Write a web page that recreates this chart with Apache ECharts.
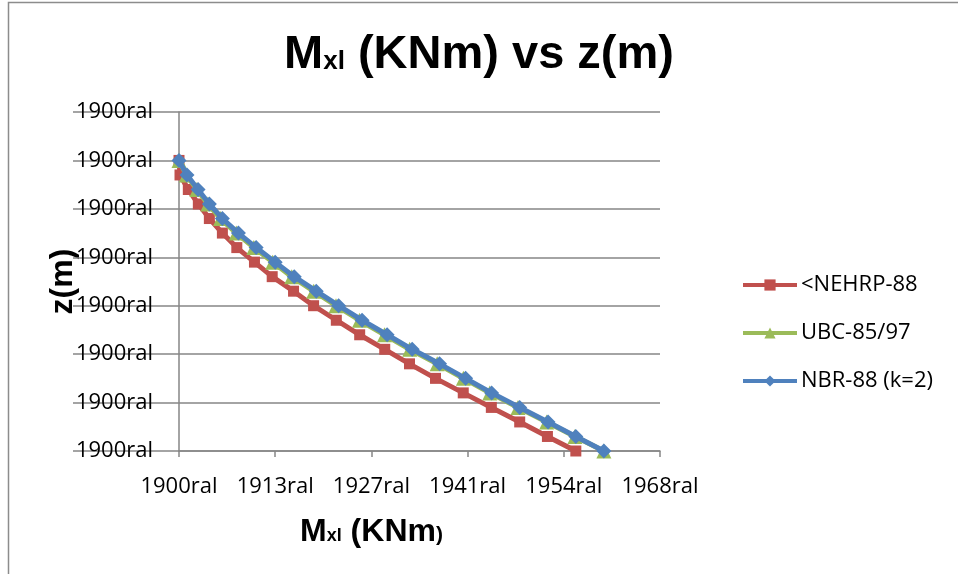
<!DOCTYPE html>
<html>
<head>
<meta charset="utf-8">
<script src="https://cdn.jsdelivr.net/npm/echarts@6/dist/echarts.min.js"></script>
<style>
  html, body { margin: 0; padding: 0; background: #ffffff; }
  #chart { width: 958px; height: 574px; }
</style>
</head>
<body>
<div id="chart"></div>
<script>
// Height above base, z (m)
const zValues = [60, 57, 54, 51, 48, 45, 42, 39, 36, 33, 30, 27, 24, 21, 18, 15, 12, 9, 6, 3, 0];

// Bending moment Mxl (KNm) per code, one value per z level
const nehrp88 = [0, 52, 484, 1005, 1578, 2255, 3005, 3922, 4844, 5953, 6995, 8177, 9391, 10693, 11979, 13333, 14774, 16234, 17708, 19149, 20625];
const ubc8597 = [0, 380, 930, 1500, 2160, 2980, 3890, 4870, 5860, 7000, 8160, 9380, 10680, 11990, 13420, 14780, 16150, 17620, 19110, 20580, 22083];
const nbr88k2 = [0, 417, 990, 1578, 2255, 3088, 4010, 5000, 5990, 7135, 8297, 9516, 10818, 12120, 13542, 14896, 16250, 17708, 19182, 20625, 22083];

const seriesNames = ['<NEHRP-88', 'UBC-85/97', 'NBR-88 (k=2)'];

// Axis tick labels (date-formatted cells)
const xTickLabels = ['1900ral', '1913ral', '1927ral', '1941ral', '1954ral', '1968ral'];
const yTickLabels = ['1900ral', '1900ral', '1900ral', '1900ral', '1900ral', '1900ral', '1900ral', '1900ral'];

const X_STEP = 5000, Y_STEP = 10;

const pairs = (xs) => xs.map((x, i) => [x, zValues[i]]);

const labelFont = 'Open Sans';
const boldFont = 'Liberation Sans';

const chart = echarts.init(document.getElementById('chart'), null, { renderer: 'canvas' });

const lineStyleFor = (color) => ({ color: color, width: 5 });

chart.setOption({
  animation: false,
  backgroundColor: '#ffffff',
  color: ['#C0504D', '#9BBB59', '#4F81BD'],
  title: {
    text: '{a|M}{b|xl}{a| (KNm) vs z(m)}',
    left: 'center',
    top: 22,
    textStyle: {
      rich: {
        a: { fontFamily: boldFont, fontWeight: 'bold', fontSize: 47, color: '#000000', verticalAlign: 'bottom', lineHeight: 52 },
        b: { fontFamily: boldFont, fontWeight: 'bold', fontSize: 26, color: '#000000', verticalAlign: 'bottom', lineHeight: 52, padding: [0, 0, 4, 0] }
      }
    }
  },
  graphic: [{
    type: 'rect',
    shape: { x: 8.5, y: 2.5, width: 1000, height: 1000 },
    style: { fill: 'none', stroke: '#8c8c8c', lineWidth: 1.5 },
    silent: true
  }],
  legend: {
    orient: 'vertical',
    left: 741,
    top: 274,
    padding: 0,
    itemWidth: 54,
    itemHeight: 14,
    itemGap: 26,
    lineStyle: { width: 4 },
    textStyle: { fontFamily: labelFont, fontSize: 22, color: '#000000', padding: [0, 0, 0, -1] },
    data: seriesNames
  },
  grid: { left: 179, right: 298, top: 112, bottom: 123, containLabel: false },
  xAxis: {
    type: 'value',
    min: 0,
    max: 25000,
    interval: X_STEP,
    name: '{a|M}{b|xl}{a| (KNm}{c|)}',
    nameLocation: 'middle',
    nameGap: 61,
    nameMoveOverlap: false,
    nameTextStyle: {
      padding: [0, 96, 0, 0],
      rich: {
        a: { fontFamily: boldFont, fontWeight: 'bold', fontSize: 32, color: '#000000', verticalAlign: 'bottom', lineHeight: 36 },
        b: { fontFamily: boldFont, fontWeight: 'bold', fontSize: 18, color: '#000000', verticalAlign: 'bottom', lineHeight: 36, padding: [0, 0, 3, 0] },
        c: { fontFamily: boldFont, fontWeight: 'bold', fontSize: 21, color: '#000000', verticalAlign: 'bottom', lineHeight: 36, padding: [0, 0, 2, 0] }
      }
    },
    axisLine: { show: true, onZero: false, lineStyle: { color: '#868686', width: 1.5 } },
    axisTick: { show: true, length: 6, lineStyle: { color: '#868686', width: 1.5 } },
    axisLabel: {
      margin: 25,
      fontFamily: labelFont,
      fontSize: 22,
      color: '#000000',
      formatter: (v) => xTickLabels[Math.round(v / X_STEP)] || ''
    },
    splitLine: { show: false }
  },
  yAxis: {
    type: 'value',
    min: 0,
    max: 70,
    interval: Y_STEP,
    name: 'z(m)',
    nameLocation: 'middle',
    nameRotate: 90,
    nameGap: 100,
    nameMoveOverlap: false,
    nameTextStyle: { fontFamily: boldFont, fontWeight: 'bold', fontSize: 32, color: '#000000' },
    axisLine: { show: true, onZero: false, lineStyle: { color: '#868686', width: 1.5 } },
    axisTick: { show: true, length: 106, lineStyle: { color: '#868686', width: 1.5 } },
    axisLabel: {
      margin: 26,
      fontFamily: labelFont,
      fontSize: 22,
      color: '#000000',
      formatter: (v) => yTickLabels[Math.round(v / Y_STEP)] || ''
    },
    splitLine: { show: true, lineStyle: { color: '#868686', width: 1.5 } }
  },
  series: [
    {
      name: seriesNames[0],
      type: 'line',
      data: pairs(nehrp88),
      symbol: 'rect',
      symbolSize: 11,
      lineStyle: lineStyleFor('#C0504D'),
      itemStyle: { color: '#C0504D' },
      z: 2
    },
    {
      name: seriesNames[1],
      type: 'line',
      data: pairs(ubc8597),
      symbol: 'triangle',
      symbolSize: 15,
      lineStyle: lineStyleFor('#9BBB59'),
      itemStyle: { color: '#9BBB59' },
      z: 3
    },
    {
      name: seriesNames[2],
      type: 'line',
      data: pairs(nbr88k2),
      symbol: 'diamond',
      symbolSize: 15,
      lineStyle: lineStyleFor('#4F81BD'),
      itemStyle: { color: '#4F81BD' },
      z: 4
    }
  ]
});
</script>
</body>
</html>
